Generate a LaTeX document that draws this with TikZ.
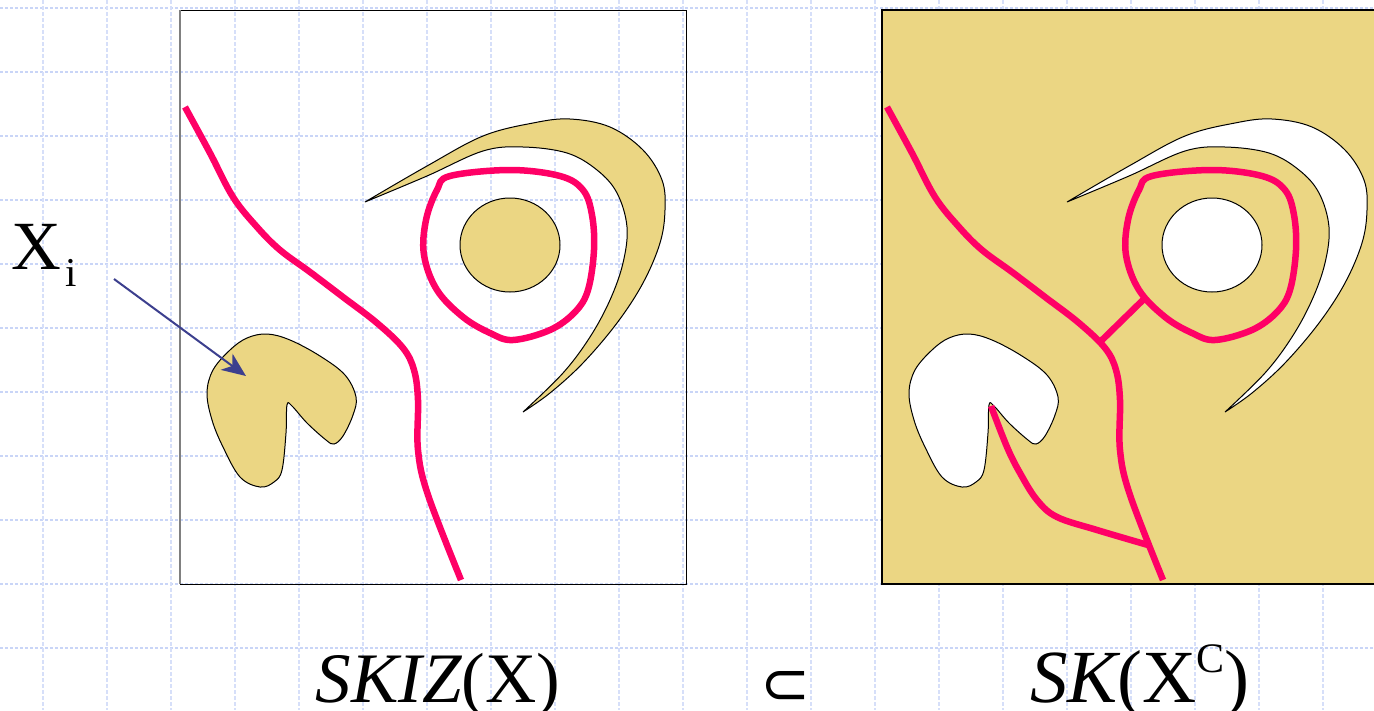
\documentclass[tikz,border=0pt]{standalone}
\usepackage{fontspec}
\setmainfont{Liberation Serif}
\newfontfamily\symfont{DejaVu Sans}
\usetikzlibrary{arrows.meta}
\definecolor{sand}{HTML}{EBD683}
\definecolor{skred}{HTML}{FF0066}
\definecolor{gridc}{HTML}{C9D5F7}
\definecolor{arrowc}{HTML}{3C3F8E}
\tikzset{
  hgrid/.style={gridc, line width=2.5pt, dash pattern=on 3pt off 2pt},
  vgrid/.style={gridc!75, line width=2pt, dash pattern=on 4pt off 2pt},
  outl/.style={draw=black, line width=1pt},
  skel/.style={draw=skred, line width=6.5pt, line join=round},
  lbl/.style={inner sep=0pt, outer sep=0pt, anchor=base west},
}
\newcommand\myshapes[1]{%
  % blob X_i
  \filldraw[outl, fill=#1] plot[smooth cycle, tension=0.6] coordinates {(287,405) (286,433) (282,470) (274,482) (260,487) (240,477) (223,447) (212,420) (207,393) (213,370) (230,350) (247,338) (267,334) (290,340) (320,356) (345,375) (356,397) (353,415) (343,436) (334,444) (326,440) (307,423) (292,406)};
  % circle
  \filldraw[outl, fill=#1] (510,245) ellipse [x radius=50, y radius=47];
  % crescent
  \filldraw[outl, fill=#1] plot[smooth, tension=0.6] coordinates {(365,202) (427,166) (483,136) (533,123) (570,119) (610,127) (643,150) (662,180) (665,210) (660,243) (643,283) (617,323) (583,363) (550,393) (523,412)}
    -- plot[smooth, tension=0.6] coordinates {(523,412) (563,373) (590,337) (610,300) (623,263) (627,227) (617,193) (597,170) (567,153) (523,147) (483,151) (427,176) (365,202)} -- cycle;
}
\newcommand\myskiz{%
  \draw[skel] plot[smooth, tension=0.6] coordinates {(185,107) (210,153) (233,197) (257,227) (280,250) (310,272) (343,297) (377,323) (403,348) (414,370) (418,400) (418,450) (428,495) (461,580)};
  \draw[skel] plot[smooth cycle, tension=0.6] coordinates {(450,176) (510,170) (560,176) (583,190) (592,215) (594,250) (588,290) (575,312) (550,330) (513,340) (490,333) (463,317) (437,290) (424,255) (426,220) (437,190)};
}
\begin{document}
\begin{tikzpicture}[x=1pt,y=-1pt]
\useasboundingbox (0,0) rectangle (1374,710);
\clip (0,0) rectangle (1374,710);
\fill[white] (0,0) rectangle (1374,710);
% background grid
\foreach \yy in {8,72,...,648} \draw[hgrid] (0,\yy) -- (1374,\yy);
\foreach \xx in {43,107,...,1323} \draw[vgrid] (\xx,0) -- (\xx,710);
% left box
\draw[black, line width=1pt] (180,10) rectangle (686,584);
\draw[gray, line width=2pt] (180,10) -- (180,584);
\myshapes{sand}
\myskiz
% right box
\fill[sand] (882,10) rectangle (1380,584);
\draw[black, line width=1.2pt] (1380,10) -- (882,10) -- (882,584) -- (1380,584);
\begin{scope}[shift={(702,0)}]
  \myshapes{white}
  \myskiz
\end{scope}
\draw[skel] plot[smooth, tension=0.6] coordinates {(991,406) (1007,447) (1020,473) (1037,500) (1057,517) (1097,530) (1148,545)};
\draw[skel] (1100,342) -- (1145,298);
% labels
\node[lbl] (xi) at (11,269) {\fontsize{69}{69}\selectfont X};
\node[lbl] (xisub) at (65,286) {\fontsize{41}{41}\selectfont i};
\coordinate (arrS) at (114,279);
\coordinate (arrE) at (246,376);
\draw[arrowc, line width=2pt, -{Stealth[length=24pt, width=20pt, inset=7pt]}] (arrS) -- (arrE);
\node[lbl, anchor=base] (skiz) at (438,702) {\fontsize{71}{71}\selectfont\itshape SKIZ\upshape(X)};
\node[lbl, anchor=base] (subs) at (785,704) {\resizebox{50pt}{33pt}{\symfont ⊂}};
\node[lbl] (sk) at (1030,702) {\fontsize{75}{75}\selectfont\itshape SK\upshape(X\raisebox{30pt}{\fontsize{42}{42}\selectfont C})};
\end{tikzpicture}
\end{document}
